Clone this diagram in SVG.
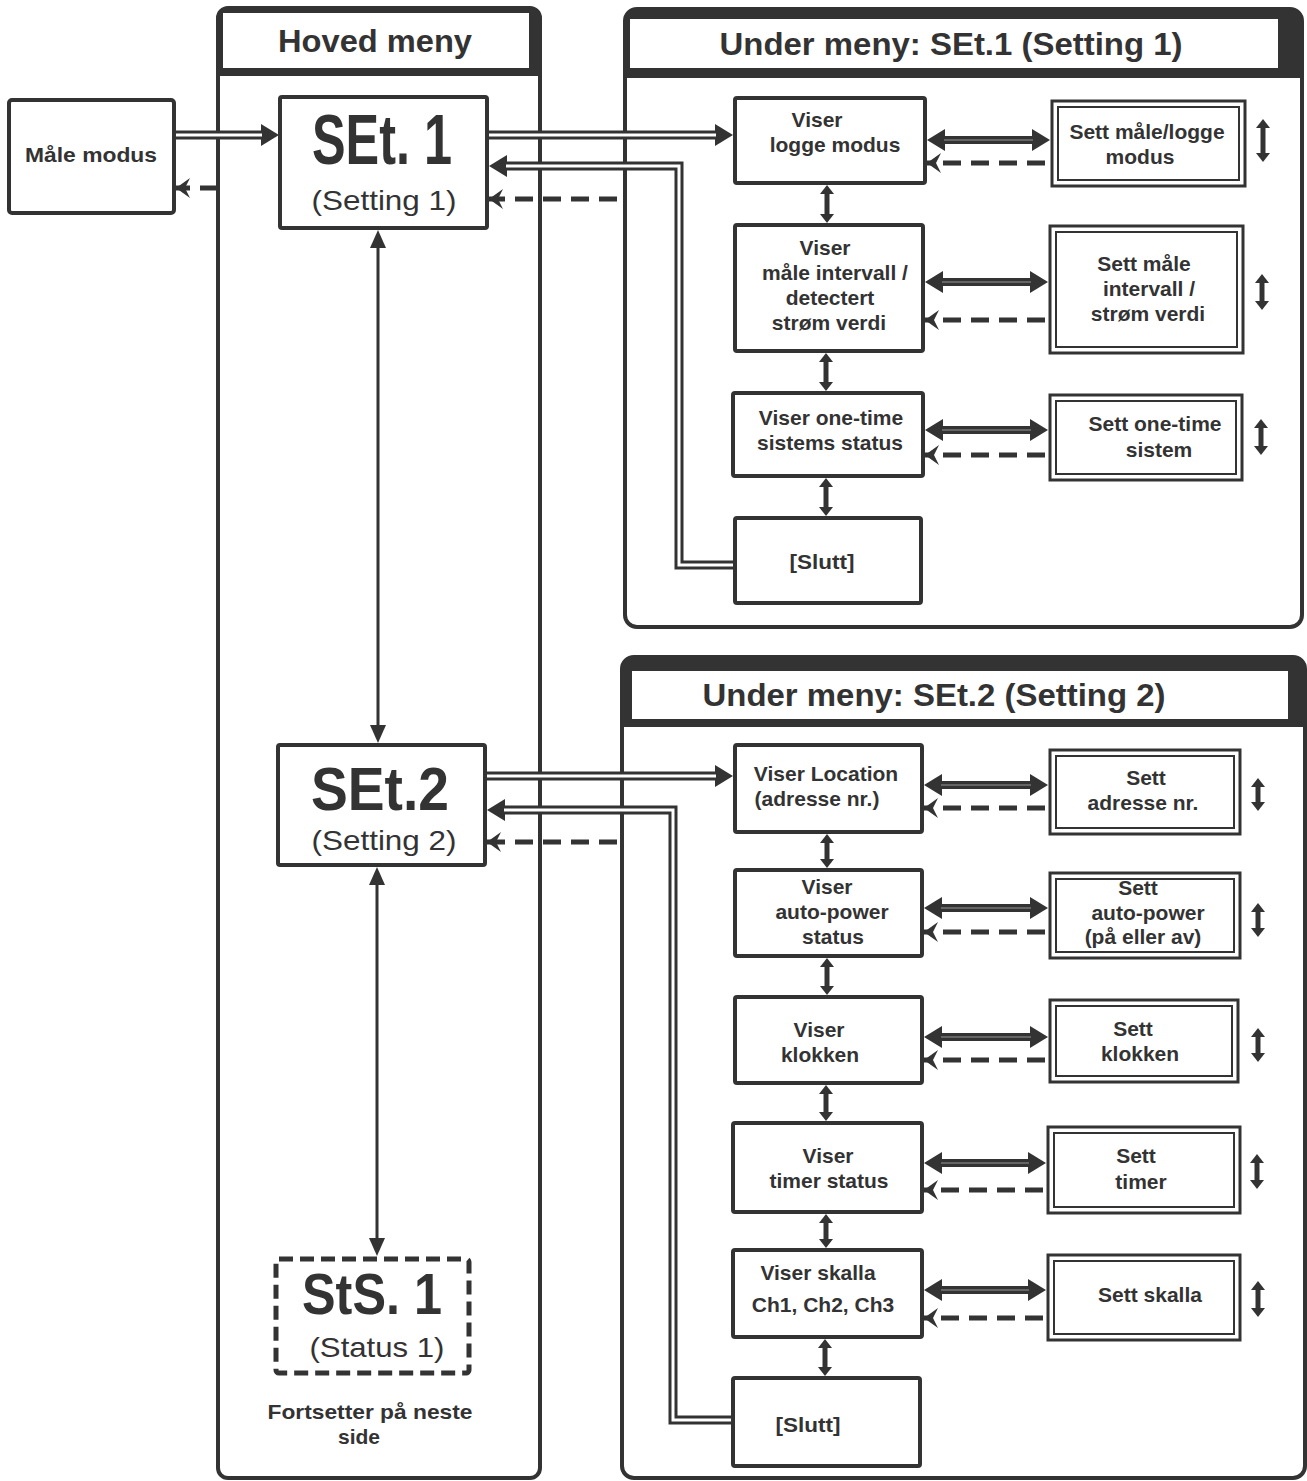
<svg xmlns="http://www.w3.org/2000/svg" width="1307" height="1481" viewBox="0 0 1307 1481">
<defs>
<style>
.bx{fill:#fff;stroke:#333;stroke-width:4}
.so{fill:#fff;stroke:#333;stroke-width:3}
.si{fill:none;stroke:#333;stroke-width:2}
.pn{fill:#fff;stroke:#333;stroke-width:4}
.t{font-family:"Liberation Sans",Arial,sans-serif;font-weight:bold;font-size:21px;fill:#333;text-anchor:middle}
.h{font-family:"Liberation Sans",Arial,sans-serif;font-weight:bold;font-size:32px;fill:#333;text-anchor:middle}
.seg{font-family:"Liberation Sans",Arial,sans-serif;font-weight:bold;fill:#333;text-anchor:middle}
.r{font-family:"Liberation Sans",Arial,sans-serif;font-weight:normal;font-size:28px;fill:#333;text-anchor:middle}
.dbl{fill:none;stroke:#333;stroke-width:9}
.dblw{fill:none;stroke:#fff;stroke-width:3}
.thk{fill:none;stroke:#333;stroke-width:8}
.thkc{fill:none;stroke:#777;stroke-width:1.5}
.dsh{fill:none;stroke:#333;stroke-width:5;stroke-dasharray:18 10}
.vc{fill:none;stroke:#333;stroke-width:5}
.mv{fill:none;stroke:#333;stroke-width:3}
</style>
<marker id="hh" markerUnits="userSpaceOnUse" markerWidth="20" markerHeight="22" refX="1" refY="11" orient="auto-start-reverse"><path d="M0,0 L18,11 L0,22 z" fill="#333"/></marker>
<marker id="hk" markerUnits="userSpaceOnUse" markerWidth="20" markerHeight="22" refX="1" refY="11" orient="auto-start-reverse"><path d="M0,0 L18,11 L0,22 z" fill="#333"/></marker>
<marker id="hc" markerUnits="userSpaceOnUse" markerWidth="16" markerHeight="20" refX="14" refY="10" orient="auto-start-reverse"><path d="M0,0 L14,10 L0,20 L5,10 z" fill="#333"/></marker>
<marker id="hs" markerUnits="userSpaceOnUse" markerWidth="10" markerHeight="14" refX="1" refY="7" orient="auto-start-reverse"><path d="M0,0 L9,7 L0,14 z" fill="#333"/></marker>
<marker id="hm" markerUnits="userSpaceOnUse" markerWidth="18" markerHeight="16" refX="1" refY="8" orient="auto-start-reverse"><path d="M0,0 L18,8 L0,16 z" fill="#333"/></marker>
</defs>
<rect width="1307" height="1481" fill="#fff"/>

<!-- Panels -->
<g id="panel-hoved">
<rect class="pn" x="218" y="8" width="322" height="1470" rx="10"/>
<path d="M218,18 Q218,8 228,8 H530 Q540,8 540,18 V76 H218 Z" fill="#333"/>
<rect x="223" y="13" width="306" height="55" fill="#fff"/>
<text class="h" x="375" y="52" textLength="194" lengthAdjust="spacingAndGlyphs">Hoved meny</text>
</g>
<g id="panel-set1">
<rect class="pn" x="625" y="9" width="677" height="618" rx="12"/>
<path d="M625,21 Q625,9 637,9 H1290 Q1302,9 1302,21 V78 H625 Z" fill="#333"/>
<rect x="630" y="19" width="648" height="49" fill="#fff"/>
<text class="h" x="951" y="55" textLength="463" lengthAdjust="spacingAndGlyphs">Under meny: SEt.1 (Setting 1)</text>
</g>
<g id="panel-set2">
<rect class="pn" x="622" y="657" width="683" height="821" rx="12"/>
<path d="M622,669 Q622,657 634,657 H1293 Q1305,657 1305,669 V727 H622 Z" fill="#333"/>
<rect x="632" y="671" width="656" height="48" fill="#fff"/>
<text class="h" x="934" y="706" textLength="463" lengthAdjust="spacingAndGlyphs">Under meny: SEt.2 (Setting 2)</text>
</g>

<!-- Connectors -->
<g id="connectors">
<path class="dbl" d="M174,135 H262" marker-end="url(#hh)"/>
<path class="dblw" d="M176,135 H262"/>
<path class="dsh" d="M218,188 H176" marker-end="url(#hc)"/>
<path class="dbl" d="M487,135 H716" marker-end="url(#hh)"/>
<path class="dblw" d="M489,135 H716"/>
<path class="dbl" d="M735,565 H679 V166 H506" marker-end="url(#hh)"/>
<path class="dblw" d="M733,565 H679 V166 H506"/>
<path class="dsh" d="M617,199 H489" marker-end="url(#hc)"/>
<path class="dbl" d="M485,776 H716" marker-end="url(#hh)"/>
<path class="dblw" d="M487,776 H716"/>
<path class="dbl" d="M733,1420 H673 V810 H504" marker-end="url(#hh)"/>
<path class="dblw" d="M731,1420 H673 V810 H504"/>
<path class="dsh" d="M617,842 H487" marker-end="url(#hc)"/>
<path class="mv" d="M378,247 V726" marker-start="url(#hm)" marker-end="url(#hm)"/>
<path class="mv" d="M377,884 V1239" marker-start="url(#hm)" marker-end="url(#hm)"/>
<path class="vc" d="M827,193 V215" marker-start="url(#hs)" marker-end="url(#hs)"/>
<path class="vc" d="M826,361 V383" marker-start="url(#hs)" marker-end="url(#hs)"/>
<path class="vc" d="M826,486 V508" marker-start="url(#hs)" marker-end="url(#hs)"/>
<path class="vc" d="M827,842 V860" marker-start="url(#hs)" marker-end="url(#hs)"/>
<path class="vc" d="M827,966 V987" marker-start="url(#hs)" marker-end="url(#hs)"/>
<path class="vc" d="M826,1093 V1113" marker-start="url(#hs)" marker-end="url(#hs)"/>
<path class="vc" d="M826,1222 V1240" marker-start="url(#hs)" marker-end="url(#hs)"/>
<path class="vc" d="M825,1347 V1368" marker-start="url(#hs)" marker-end="url(#hs)"/>
<path class="thk" d="M944,140 H1033" marker-start="url(#hk)" marker-end="url(#hk)"/>
<path class="thkc" d="M944,140 H1033"/>
<path class="dsh" d="M1045,163 H927" marker-end="url(#hc)"/>
<path class="thk" d="M942,282 H1031" marker-start="url(#hk)" marker-end="url(#hk)"/>
<path class="thkc" d="M942,282 H1031"/>
<path class="dsh" d="M1045,320 H925" marker-end="url(#hc)"/>
<path class="thk" d="M942,430 H1031" marker-start="url(#hk)" marker-end="url(#hk)"/>
<path class="thkc" d="M942,430 H1031"/>
<path class="dsh" d="M1045,455 H925" marker-end="url(#hc)"/>
<path class="thk" d="M941,785 H1031" marker-start="url(#hk)" marker-end="url(#hk)"/>
<path class="thkc" d="M941,785 H1031"/>
<path class="dsh" d="M1045,808 H924" marker-end="url(#hc)"/>
<path class="thk" d="M941,908 H1031" marker-start="url(#hk)" marker-end="url(#hk)"/>
<path class="thkc" d="M941,908 H1031"/>
<path class="dsh" d="M1045,932 H924" marker-end="url(#hc)"/>
<path class="thk" d="M941,1037 H1031" marker-start="url(#hk)" marker-end="url(#hk)"/>
<path class="thkc" d="M941,1037 H1031"/>
<path class="dsh" d="M1045,1060 H924" marker-end="url(#hc)"/>
<path class="thk" d="M941,1163 H1029" marker-start="url(#hk)" marker-end="url(#hk)"/>
<path class="thkc" d="M941,1163 H1029"/>
<path class="dsh" d="M1043,1190 H924" marker-end="url(#hc)"/>
<path class="thk" d="M941,1290 H1029" marker-start="url(#hk)" marker-end="url(#hk)"/>
<path class="thkc" d="M941,1290 H1029"/>
<path class="dsh" d="M1043,1318 H924" marker-end="url(#hc)"/>
<path class="vc" d="M1263,127 V154" marker-start="url(#hs)" marker-end="url(#hs)"/>
<path class="vc" d="M1262,282 V302" marker-start="url(#hs)" marker-end="url(#hs)"/>
<path class="vc" d="M1261,427 V447" marker-start="url(#hs)" marker-end="url(#hs)"/>
<path class="vc" d="M1258,786 V803" marker-start="url(#hs)" marker-end="url(#hs)"/>
<path class="vc" d="M1258,911 V929" marker-start="url(#hs)" marker-end="url(#hs)"/>
<path class="vc" d="M1258,1036 V1054" marker-start="url(#hs)" marker-end="url(#hs)"/>
<path class="vc" d="M1257,1162 V1181" marker-start="url(#hs)" marker-end="url(#hs)"/>
<path class="vc" d="M1258,1289 V1309" marker-start="url(#hs)" marker-end="url(#hs)"/>
</g>

<!-- Nodes -->
<g id="maale-modus">
<rect class="bx" x="9" y="100" width="165" height="113" rx="3"/>
<text class="t" x="91" y="162" font-size="24" textLength="132" lengthAdjust="spacingAndGlyphs">Måle modus</text>
</g>
<g id="set1">
<rect class="bx" x="280" y="97" width="207" height="131" rx="2"/>
<text class="seg" x="382" y="164" font-size="70" textLength="140" lengthAdjust="spacingAndGlyphs">SEt. 1</text>
<text class="r" x="384" y="210" textLength="145" lengthAdjust="spacingAndGlyphs">(Setting 1)</text>
</g>
<g id="set2">
<rect class="bx" x="278" y="745" width="207" height="120" rx="2"/>
<text class="seg" x="380" y="810" font-size="62" textLength="138" lengthAdjust="spacingAndGlyphs">SEt.2</text>
<text class="r" x="384" y="850" font-size="27" textLength="145" lengthAdjust="spacingAndGlyphs">(Setting 2)</text>
</g>
<g id="sts1">
<rect x="276" y="1259" width="193" height="114" rx="3" fill="#fff" stroke="#333" stroke-width="5" stroke-dasharray="14 7"/>
<text class="seg" x="372" y="1314" font-size="58" textLength="140" lengthAdjust="spacingAndGlyphs">StS. 1</text>
<text class="r" x="377" y="1357" font-size="26" textLength="135" lengthAdjust="spacingAndGlyphs">(Status 1)</text>
</g>
<g id="fortsetter">
<text class="t" x="370" y="1419" font-size="21" textLength="205" lengthAdjust="spacingAndGlyphs">Fortsetter på neste</text>
<text class="t" x="359" y="1444" font-size="21">side</text>
</g>

<g id="v1-logge">
<rect class="bx" x="735" y="98" width="190" height="85" rx="2"/>
<text class="t" x="817" y="127">Viser</text>
<text class="t" x="835" y="152">logge modus</text>
</g>
<g id="v1-maale">
<rect class="bx" x="735" y="225" width="188" height="126" rx="2"/>
<text class="t" x="825" y="255">Viser</text>
<text class="t" x="835" y="280">måle intervall /</text>
<text class="t" x="830" y="305">detectert</text>
<text class="t" x="829" y="330">strøm verdi</text>
</g>
<g id="v1-onetime">
<rect class="bx" x="733" y="393" width="190" height="83" rx="2"/>
<text class="t" x="831" y="425">Viser one-time</text>
<text class="t" x="830" y="450">sistems status</text>
</g>
<g id="v1-slutt">
<rect class="bx" x="735" y="518" width="186" height="85" rx="2"/>
<text class="t" x="822" y="569" font-size="24" textLength="65" lengthAdjust="spacingAndGlyphs">[Slutt]</text>
</g>
<g id="s1-logge">
<rect class="so" x="1052" y="101" width="193" height="85"/>
<rect class="si" x="1058" y="107" width="181" height="73"/>
<text class="t" x="1147" y="139">Sett måle/logge</text>
<text class="t" x="1140" y="164">modus</text>
</g>
<g id="s1-maale">
<rect class="so" x="1050" y="226" width="193" height="127"/>
<rect class="si" x="1056" y="232" width="181" height="115"/>
<text class="t" x="1144" y="271">Sett måle</text>
<text class="t" x="1149" y="296">intervall /</text>
<text class="t" x="1148" y="321">strøm verdi</text>
</g>
<g id="s1-onetime">
<rect class="so" x="1050" y="395" width="192" height="85"/>
<rect class="si" x="1056" y="401" width="180" height="73"/>
<text class="t" x="1155" y="431">Sett one-time</text>
<text class="t" x="1159" y="457">sistem</text>
</g>

<g id="v2-location">
<rect class="bx" x="735" y="745" width="187" height="87" rx="2"/>
<text class="t" x="826" y="781">Viser Location</text>
<text class="t" x="817" y="806">(adresse nr.)</text>
</g>
<g id="v2-autopower">
<rect class="bx" x="735" y="870" width="187" height="86" rx="2"/>
<text class="t" x="827" y="894">Viser</text>
<text class="t" x="832" y="919">auto-power</text>
<text class="t" x="833" y="944">status</text>
</g>
<g id="v2-klokken">
<rect class="bx" x="735" y="997" width="187" height="86" rx="2"/>
<text class="t" x="819" y="1037">Viser</text>
<text class="t" x="820" y="1062">klokken</text>
</g>
<g id="v2-timer">
<rect class="bx" x="733" y="1123" width="189" height="89" rx="2"/>
<text class="t" x="828" y="1163">Viser</text>
<text class="t" x="829" y="1188">timer status</text>
</g>
<g id="v2-skalla">
<rect class="bx" x="733" y="1250" width="189" height="87" rx="2"/>
<text class="t" x="818" y="1280">Viser skalla</text>
<text class="t" x="823" y="1312">Ch1, Ch2, Ch3</text>
</g>
<g id="v2-slutt">
<rect class="bx" x="733" y="1378" width="187" height="88" rx="2"/>
<text class="t" x="808" y="1432" font-size="24" textLength="65" lengthAdjust="spacingAndGlyphs">[Slutt]</text>
</g>
<g id="s2-adresse">
<rect class="so" x="1050" y="750" width="190" height="84"/>
<rect class="si" x="1056" y="756" width="178" height="72"/>
<text class="t" x="1146" y="785">Sett</text>
<text class="t" x="1143" y="810">adresse nr.</text>
</g>
<g id="s2-autopower">
<rect class="so" x="1050" y="873" width="190" height="85"/>
<rect class="si" x="1056" y="879" width="178" height="73"/>
<text class="t" x="1138" y="895">Sett</text>
<text class="t" x="1148" y="920">auto-power</text>
<text class="t" x="1143" y="944" font-size="17">(på eller av)</text>
</g>
<g id="s2-klokken">
<rect class="so" x="1050" y="1000" width="188" height="82"/>
<rect class="si" x="1056" y="1006" width="176" height="70"/>
<text class="t" x="1133" y="1036">Sett</text>
<text class="t" x="1140" y="1061">klokken</text>
</g>
<g id="s2-timer">
<rect class="so" x="1048" y="1127" width="192" height="86"/>
<rect class="si" x="1054" y="1133" width="180" height="74"/>
<text class="t" x="1136" y="1163">Sett</text>
<text class="t" x="1141" y="1189">timer</text>
</g>
<g id="s2-skalla">
<rect class="so" x="1048" y="1255" width="192" height="85"/>
<rect class="si" x="1054" y="1261" width="180" height="73"/>
<text class="t" x="1150" y="1302">Sett skalla</text>
</g>
</svg>
